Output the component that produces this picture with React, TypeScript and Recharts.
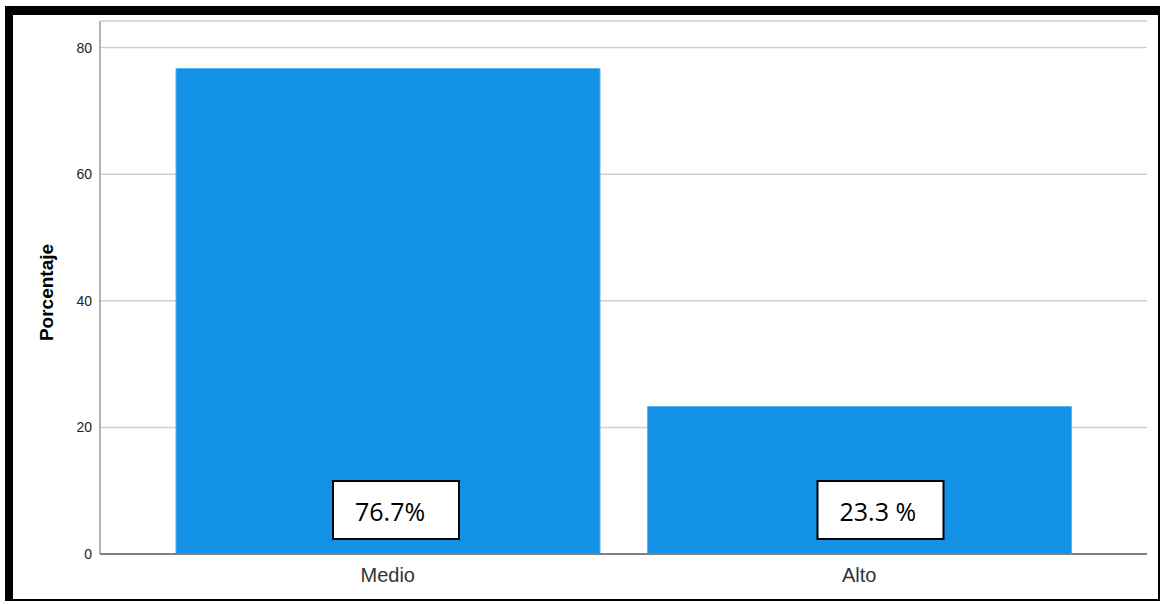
import React from "react";
import { BarChart, Bar, XAxis, YAxis, CartesianGrid, LabelList } from "recharts";

const categories = ["Medio", "Alto"];
const percentages = [76.7, 23.3];
const labelTexts = ["76.7%", "23.3 %"];
const yTicks = [0, 20, 40, 60, 80];

const data = categories.map((c, i) => ({ name: c, value: percentages[i], label: labelTexts[i] }));

const labelShift = [0, 13];

const BoxLabel = (props: any) => {
  const { x, y, width, height, index } = props;
  const base = y + height;
  const bw = 126;
  const bh = 58;
  const cx = x + width / 2 + 8 + (labelShift[index] || 0);
  const bx = cx - bw / 2;
  const by = base - 15 - bh;
  return (
    <g>
      <rect x={bx} y={by} width={bw} height={bh} fill="#ffffff" stroke="#000000" strokeWidth={2} />
      <text
        x={bx + 22}
        y={by + bh / 2 + 1}
        textAnchor="start"
        dominantBaseline="central"
        fontFamily="'Open Sans', sans-serif"
        fontSize={25}
        fill="#000000"
      >
        {labelTexts[index]}
      </text>
    </g>
  );
};

export default function App() {
  return (
    <div style={{ position: "absolute", left: 0, top: 0, width: 1161, height: 604, background: "#fff", overflow: "hidden" }}>
      <div
        style={{
          position: "absolute",
          left: 5,
          top: 6,
          width: 1145,
          height: 584,
          borderTop: "9px solid #000",
          borderLeft: "8px solid #000",
          borderRight: "2px solid #000",
          borderBottom: "2px solid #000",
        }}
      />
      <div style={{ position: "absolute", left: 0, top: 0 }}>
        <BarChart
          width={1161}
          height={604}
          data={data}
          margin={{ top: 21, right: 14, bottom: 0, left: 0 }}
          barCategoryGap={24}
        >
          <CartesianGrid horizontal vertical={false} stroke="#cfcfcf" strokeWidth={1.5} />
          <YAxis
            width={100}
            domain={[0, 84.2]}
            ticks={yTicks}
            allowDataOverflow
            axisLine={{ stroke: "#999999", strokeWidth: 1.5 }}
            tickLine={false}
            tick={{ fontFamily: "Arial, 'Liberation Sans', sans-serif", fontSize: 14, fill: "#222" }}
            label={{
              value: "Porcentaje",
              angle: -90,
              position: "insideLeft",
              offset: 0,
              dx: 46,
              dy: 5,
              style: { fontFamily: "Arial, 'Liberation Sans', sans-serif", fontSize: 19, fontWeight: "bold", fill: "#000", textAnchor: "middle" },
            }}
          />
          <XAxis
            dataKey="name"
            height={50}
            padding={{ left: 52, right: 52 }}
            axisLine={{ stroke: "#808080", strokeWidth: 2 }}
            tickLine={false}
            tickMargin={8}
            tick={{ fontFamily: "Arial, 'Liberation Sans', sans-serif", fontSize: 20, fill: "#333" }}
          />
          <Bar dataKey="value" fill="#1391E6" stroke="#5DB3EE" strokeWidth={1} isAnimationActive={false}>
            <LabelList dataKey="value" content={<BoxLabel />} />
          </Bar>
        </BarChart>
      </div>
    </div>
  );
}
